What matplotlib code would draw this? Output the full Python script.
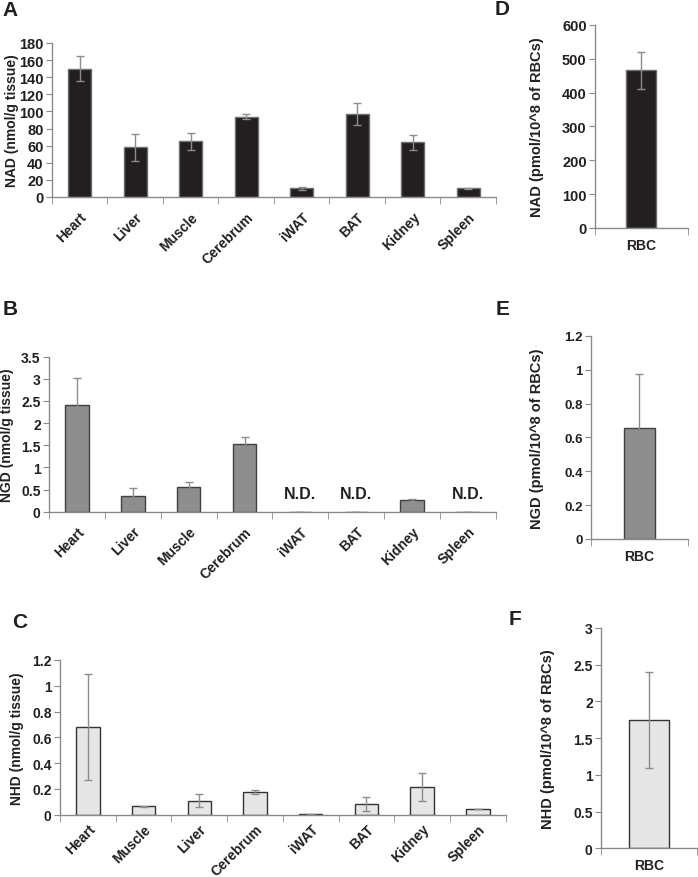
import numpy as np
import matplotlib
matplotlib.use("Agg")
import matplotlib.pyplot as plt

plt.rcParams['font.family'] = ['Liberation Sans', 'DejaVu Sans']
plt.rcParams['font.weight'] = 'bold'

# tissue data
tissues_ab = ['Heart', 'Liver', 'Muscle', 'Cerebrum', 'iWAT', 'BAT', 'Kidney', 'Spleen']
tissues_c = ['Heart', 'Muscle', 'Liver', 'Cerebrum', 'iWAT', 'BAT', 'Kidney', 'Spleen']

nad = [150, 58, 65, 94, 10, 97, 64, 10]
nad_err = [15, 16, 10, 3, 2, 13, 9, 1]

ngd = [2.41, 0.35, 0.55, 1.535, 0, 0, 0.26, 0]
ngd_err = [0.61, 0.18, 0.12, 0.16, 0, 0, 0.02, 0]
ngd_nd = [False, False, False, False, True, True, False, True]

nhd = [0.678, 0.065, 0.109, 0.176, 0.005, 0.083, 0.215, 0.045]
nhd_err = [0.41, 0.003, 0.053, 0.013, 0.002, 0.054, 0.108, 0.002]

# red blood cells
rbc_nad, rbc_nad_err = 466, 54
rbc_ngd, rbc_ngd_err = 0.655, 0.318
rbc_nhd, rbc_nhd_err = 1.745, 0.65

DARK = '#231f20'
SPINE = '#8a8a8a'
ERR = '#8c8c8c'
W, H = 698, 878


def style_axes(ax, tick_size):
    for s in ['top', 'right']:
        ax.spines[s].set_visible(False)
    for s in ['left', 'bottom']:
        ax.spines[s].set_color(SPINE)
        ax.spines[s].set_linewidth(1.0)
    ax.tick_params(axis='y', direction='out', length=4, color=SPINE,
                   labelsize=tick_size, labelcolor=DARK, pad=2)
    ax.tick_params(axis='x', which='major', length=0, labelcolor=DARK)
    ax.tick_params(axis='x', which='minor', direction='out', length=5, color=SPINE)


def place_ylabel(ax, text, size, xpx):
    # x in figure pixels, y at the axes centre
    ax.set_ylabel(text, fontsize=size, fontweight='bold', color=DARK)
    bb = ax.get_position()
    ax.yaxis.set_label_coords((xpx / W - bb.x0) / bb.width, 0.5)


def tissue_panel(rect, labels, vals, errs, ylim, yticks, ytl, color, edge,
                 ylabel, tick_size, ylab_size, ylab_x, xpad):
    ax = fig.add_axes(rect)
    x = np.arange(len(labels))
    ax.bar(x, vals, width=0.42, color=color, edgecolor=edge, linewidth=1.0, zorder=2)
    ax.errorbar(x, vals, yerr=errs, fmt='none', ecolor=ERR, elinewidth=1.0,
                capsize=3, capthick=1.0, zorder=3)
    ax.set_xlim(-0.5, len(labels) - 0.5)
    ax.set_ylim(*ylim)
    ax.set_yticks(yticks)
    ax.set_yticklabels(ytl)
    ax.set_xticks(x)
    ax.set_xticklabels(labels, rotation=45, ha='right', rotation_mode='anchor',
                       fontsize=10, fontweight='bold')
    ax.set_xticks(np.arange(len(labels) + 1) - 0.5, minor=True)
    style_axes(ax, tick_size)
    ax.tick_params(axis='x', which='major', pad=xpad)
    place_ylabel(ax, ylabel, ylab_size, ylab_x)
    return ax


def rbc_panel(rect, val, err, ylim, yticks, ytl, color, edge, width, ylabel, ylab_x,
              tick_size):
    ax = fig.add_axes(rect)
    ax.bar([0], [val], width=width, color=color, edgecolor=edge, linewidth=1.0, zorder=2)
    ax.errorbar([0], [val], yerr=[err], fmt='none', ecolor=ERR, elinewidth=1.0,
                capsize=3, capthick=1.0, zorder=3)
    ax.set_xlim(-0.5, 0.5)
    ax.set_ylim(*ylim)
    ax.set_yticks(yticks)
    ax.set_yticklabels(ytl)
    ax.set_xticks([0])
    ax.set_xticklabels(['RBC'], fontsize=10, fontweight='bold')
    ax.set_xticks([-0.5, 0.5], minor=True)
    style_axes(ax, tick_size)
    ax.tick_params(axis='x', which='major', pad=7)
    place_ylabel(ax, ylabel, 10.5, ylab_x)
    return ax


fig = plt.figure(figsize=(W / 100, H / 100), dpi=100)

# A
tissue_panel([0.0745, 0.7745, 0.636, 0.1754], tissues_ab, nad, nad_err, (0, 180),
             np.arange(0, 181, 20), [str(v) for v in range(0, 181, 20)],
             DARK, '#6e6e6e', 'NAD (nmol/g tissue)', 10.5, 10, 19, 9)

# B
axB = tissue_panel([0.0702, 0.4161, 0.6404, 0.1765], tissues_ab, ngd, ngd_err, (0, 3.5),
                   [0, 0.5, 1, 1.5, 2, 2.5, 3, 3.5],
                   ['0', '0.5', '1', '1.5', '2', '2.5', '3', '3.5'],
                   '#8e8e8e', '#404040', 'NGD (nmol/g tissue)', 10, 10, 14, 9)
for i, nd in enumerate(ngd_nd):
    if nd:
        axB.text(i, 0.42, 'N.D.', ha='center', va='center', fontsize=11.5,
                 fontweight='bold', color=DARK)

# C
tissue_panel([0.086, 0.0710, 0.6385, 0.1762], tissues_c, nhd, nhd_err, (0, 1.2),
             [0, 0.2, 0.4, 0.6, 0.8, 1, 1.2],
             ['0', '0.2', '0.4', '0.6', '0.8', '1', '1.2'],
             '#e6e6e6', '#333333', 'NHD (nmol/g tissue)', 10, 10, 24, 5)

# D, E, F
rbc_panel([0.8524, 0.7392, 0.1328, 0.2312], rbc_nad, rbc_nad_err, (0, 600),
          np.arange(0, 601, 100), [str(v) for v in range(0, 601, 100)],
          DARK, '#6e6e6e', 0.32, 'NAD (pmol/10^8 of RBCs)', 544, 10.5)
rbc_panel([0.8467, 0.3850, 0.1385, 0.2312], rbc_ngd, rbc_ngd_err, (0, 1.2),
          [0, 0.2, 0.4, 0.6, 0.8, 1, 1.2],
          ['0', '0.2', '0.4', '0.6', '0.8', '1', '1.2'],
          '#8e8e8e', '#404040', 0.32, 'NGD (pmol/10^8 of RBCs)', 544, 9.5)
rbc_panel([0.861, 0.0327, 0.1375, 0.2509], rbc_nhd, rbc_nhd_err, (0, 3),
          [0, 0.5, 1, 1.5, 2, 2.5, 3],
          ['0', '0.5', '1', '1.5', '2', '2.5', '3'],
          '#e6e6e6', '#333333', 0.42, 'NHD (pmol/10^8 of RBCs)', 555, 10)

# panel letters
letters = [('A', 2, 1), ('B', 3, 300), ('C', 12, 613),
           ('D', 495, 0), ('E', 496, 300), ('F', 509, 610)]
for txt, px, py in letters:
    fig.text(px / W, 1 - py / H, txt, ha='left', va='top', fontsize=15,
             fontweight='bold', color=DARK)

fig.savefig('out.png', dpi=100)
